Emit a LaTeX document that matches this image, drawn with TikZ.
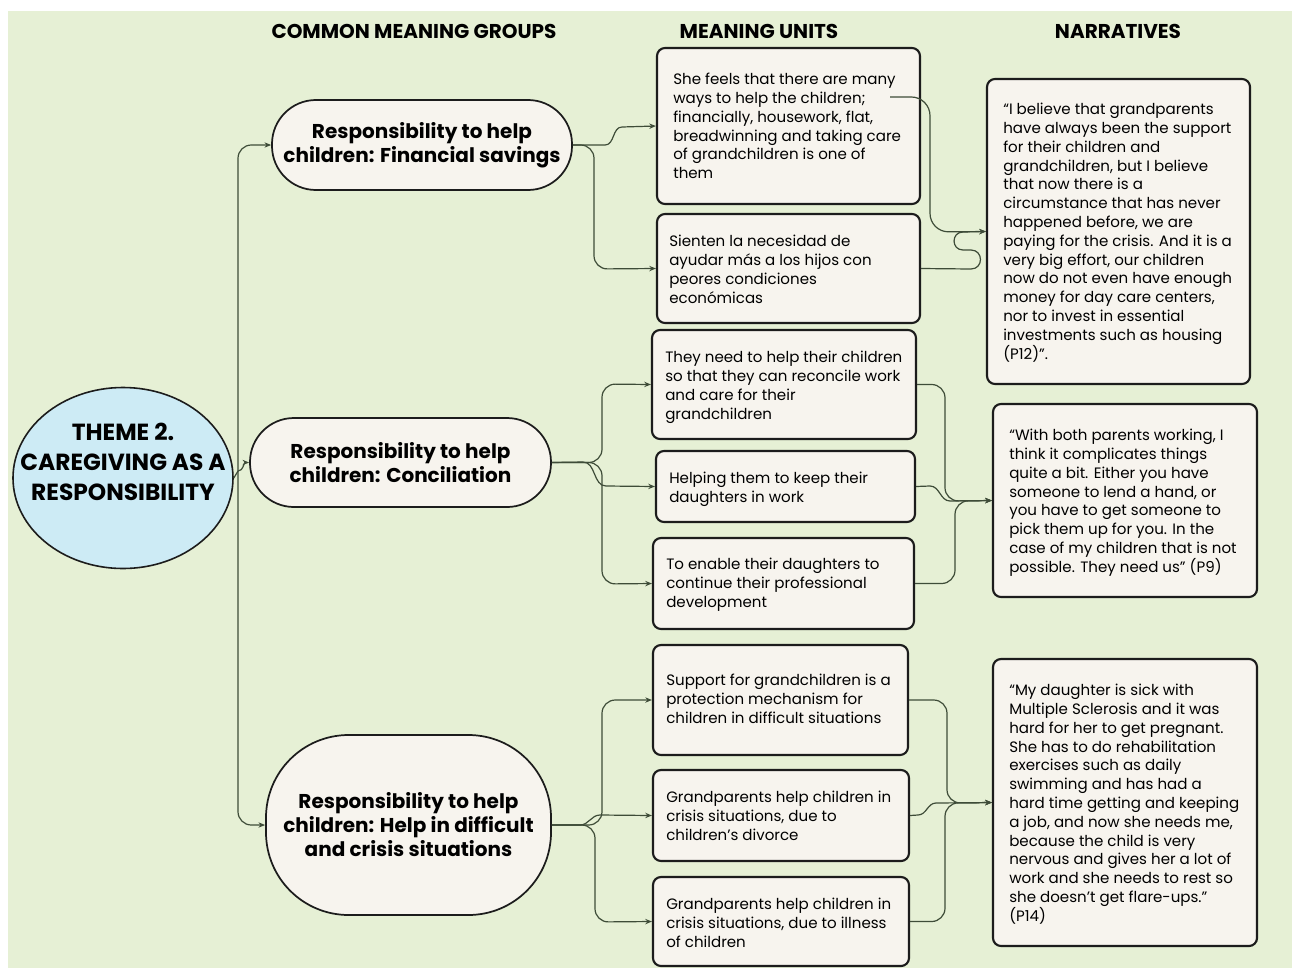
\documentclass[tikz,border=0pt]{standalone}
\usepackage{fontspec}
\setmainfont{Poppins}
\usetikzlibrary{arrows.meta,fit,shapes.geometric}
\definecolor{bg}{RGB}{230,240,213}
\definecolor{boxfill}{RGB}{247,244,238}
\definecolor{themefill}{RGB}{205,235,245}
\definecolor{linecol}{RGB}{62,76,56}
\definecolor{edgecol}{RGB}{28,28,28}
\begin{document}
\begin{tikzpicture}[x=0.75pt,y=-0.75pt,
  mubox/.style={draw=edgecol,line width=1.6pt,fill=boxfill,rounded corners=6pt,inner sep=0pt},
  pill/.style={draw=edgecol,line width=1.3pt,fill=boxfill,inner sep=0pt,align=center,
     font=\fontsize{15}{18}\selectfont\bfseries},
  mutext/.style={anchor=north west,inner sep=0pt,align=left,font=\fontsize{11.3}{14.1}\selectfont},
  header/.style={inner sep=0pt,font=\fontsize{15}{18}\selectfont\bfseries},
  link/.style={draw=linecol,line width=0.9pt},
  conn/.style={link,-{Stealth[length=5pt,width=4pt]}},
  rc/.style={rounded corners=10pt}
]
\useasboundingbox (0,0) rectangle (1292,968);
\fill[white] (0,0) rectangle (1292,968);
\fill[bg] (8,11) rectangle (1292,968);

% headers
\node[header] (h1) at (414,31) {COMMON MEANING GROUPS};
\node[header] (h2) at (759,31) {MEANING UNITS};
\node[header] (h3) at (1118,31) {NARRATIVES};

% theme
\node[ellipse,draw=edgecol,line width=1.2pt,fill=themefill,minimum width=220*0.75pt,minimum height=181*0.75pt,inner sep=0pt] (theme) at (123,478) {};
\node[inner sep=0pt,align=center,font=\fontsize{17.5}{22.5}\selectfont\bfseries] (themet) at (123,462) {THEME 2.\\CAREGIVING AS A\\RESPONSIBILITY};

% groups
\node[pill,rounded corners=33pt,minimum width=300*0.75pt,minimum height=90*0.75pt] (g1) at (422,145) {Responsibility to help\\children: Financial savings};
\node[pill,rounded corners=33pt,minimum width=301*0.75pt,minimum height=89*0.75pt] (g2) at (400.5,462.5) {Responsibility to help\\children: Conciliation};
\node[pill,rounded corners=62pt,minimum width=285*0.75pt,minimum height=180*0.75pt] (g3) at (408.5,825) {Responsibility to help\\children: Help in difficult\\and crisis situations};

% meaning unit boxes
\node[mubox,fit={(657,48) (920,204)}] (mu1) {};
\node[mubox,fit={(657,214) (920,323)}] (mu2) {};
\node[mubox,fit={(652,330) (916,439)}] (mu3) {};
\node[mubox,fit={(656,451) (915,522)}] (mu4) {};
\node[mubox,fit={(653,538) (914,629)}] (mu5) {};
\node[mubox,fit={(653,645) (908,755)}] (mu6) {};
\node[mubox,fit={(653,770) (909,861)}] (mu7) {};
\node[mubox,fit={(653,877) (909,966)}] (mu8) {};
% narrative boxes
\node[mubox,fit={(987,79) (1250,384)}] (n1) {};
\node[mubox,fit={(993,404) (1257,597)}] (n2) {};
\node[mubox,fit={(993,659) (1257,946)}] (n3) {};

% texts
\node[mutext] (mu1t) at (673,73) {She feels that there are many\\ways to help the children;\\financially, housework, flat,\\breadwinning and taking care\\of grandchildren is one of\\them};
\node[mutext] (mu2t) at (669,235) {Sienten la necesidad de\\ayudar más a los hijos con\\peores condiciones\\económicas};
\node[mutext] (mu3t) at (665,351) {They need to help their children\\so that they can reconcile work\\and care for their\\grandchildren};
\node[mutext] (mu4t) at (669,472) {Helping them to keep their\\daughters in work};
\node[mutext] (mu5t) at (666,558) {To enable their daughters to\\continue their professional\\development};
\node[mutext] (mu6t) at (666,674) {Support for grandchildren is a\\protection mechanism for\\children in difficult situations};
\node[mutext] (mu7t) at (666,791) {Grandparents help children in\\crisis situations, due to\\children's divorce};
\node[mutext] (mu8t) at (666,898) {Grandparents help children in\\crisis situations, due to illness\\of children};
\node[mutext] (n1t) at (1003,103) {“I believe that grandparents\\have always been the support\\for their children and\\grandchildren, but I believe\\that now there is a\\circumstance that has never\\happened before, we are\\paying for the crisis. And it is a\\very big effort, our children\\now do not even have enough\\money for day care centers,\\nor to invest in essential\\investments such as housing\\(P12)”.};
\node[mutext] (n2t) at (1009,429) {“With both parents working, I\\think it complicates things\\quite a bit. Either you have\\someone to lend a hand, or\\you have to get someone to\\pick them up for you. In the\\case of my children that is not\\possible. They need us” (P9)};
\node[mutext] (n3t) at (1009,684) {“My daughter is sick with\\Multiple Sclerosis and it was\\hard for her to get pregnant.\\She has to do rehabilitation\\exercises such as daily\\swimming and has had a\\hard time getting and keeping\\a job, and now she needs me,\\because the child is very\\nervous and gives her a lot of\\work and she needs to rest so\\she doesn't get flare-ups.”\\(P14)};

% theme -> groups
\coordinate (tr) at (238,471);
\draw[link] (theme.east) -- (tr);
\draw[conn,rc] (tr) |- (g1.west);
\draw[conn,rc] (tr) |- (g3.west);
\draw[conn] (tr) to[out=0,in=180] (g2.west);

% group 1 -> MU
\draw[conn] (g1.east) -- (605,145) to[out=0,in=180] (622,127) -- (mu1.west);
\draw[conn,rc] (g1.east) -| (594,269) -- (mu2.west);
% group 2 -> MU
\draw[conn,rc] (g2.east) -| (602,384) -- (mu3.west);
\draw[conn] (g2.east) -- (583,462) to[out=0,in=180] (606,486) -- (mu4.west);
\draw[conn,rc] (g2.east) -| (602,584) -- (mu5.west);
% group 3 -> MU
\draw[conn,rc] (g3.east) -| (602,700) -- (mu6.west);
\draw[conn] (g3.east) -- (580,825) to[out=0,in=180] (600,815) -- (mu7.west);
\draw[conn,rc] (g3.east) -| (595,922) -- (mu8.west);

% MU -> narratives
\coordinate (mu1s) at (890,97);
\draw[conn,rounded corners=14pt] (mu1s) -| (930,232) -- (n1.west);
\draw[conn] (mu2.east) -- (971,269) to[out=0,in=0,looseness=1.7] (971,250) -- (963,250) to[out=180,in=180,looseness=1.7] (963,232) -- (n1.west);

\draw[conn,rc] (mu3.east) -| (945,501) -- (n2.west);
\draw[conn] (mu4.east) -- (930,486) to[out=0,in=180] (950,501) -- (n2.west);
\draw[conn,rc] (mu5.east) -| (955,501) -- (n2.west);

\draw[conn,rc] (mu6.east) -| (947,803) -- (n3.west);
\draw[conn] (mu7.east) -- (918,815) to[out=0,in=180] (936,803) -- (n3.west);
\draw[conn,rc] (mu8.east) -| (945,803) -- (n3.west);
\end{tikzpicture}
\end{document}
